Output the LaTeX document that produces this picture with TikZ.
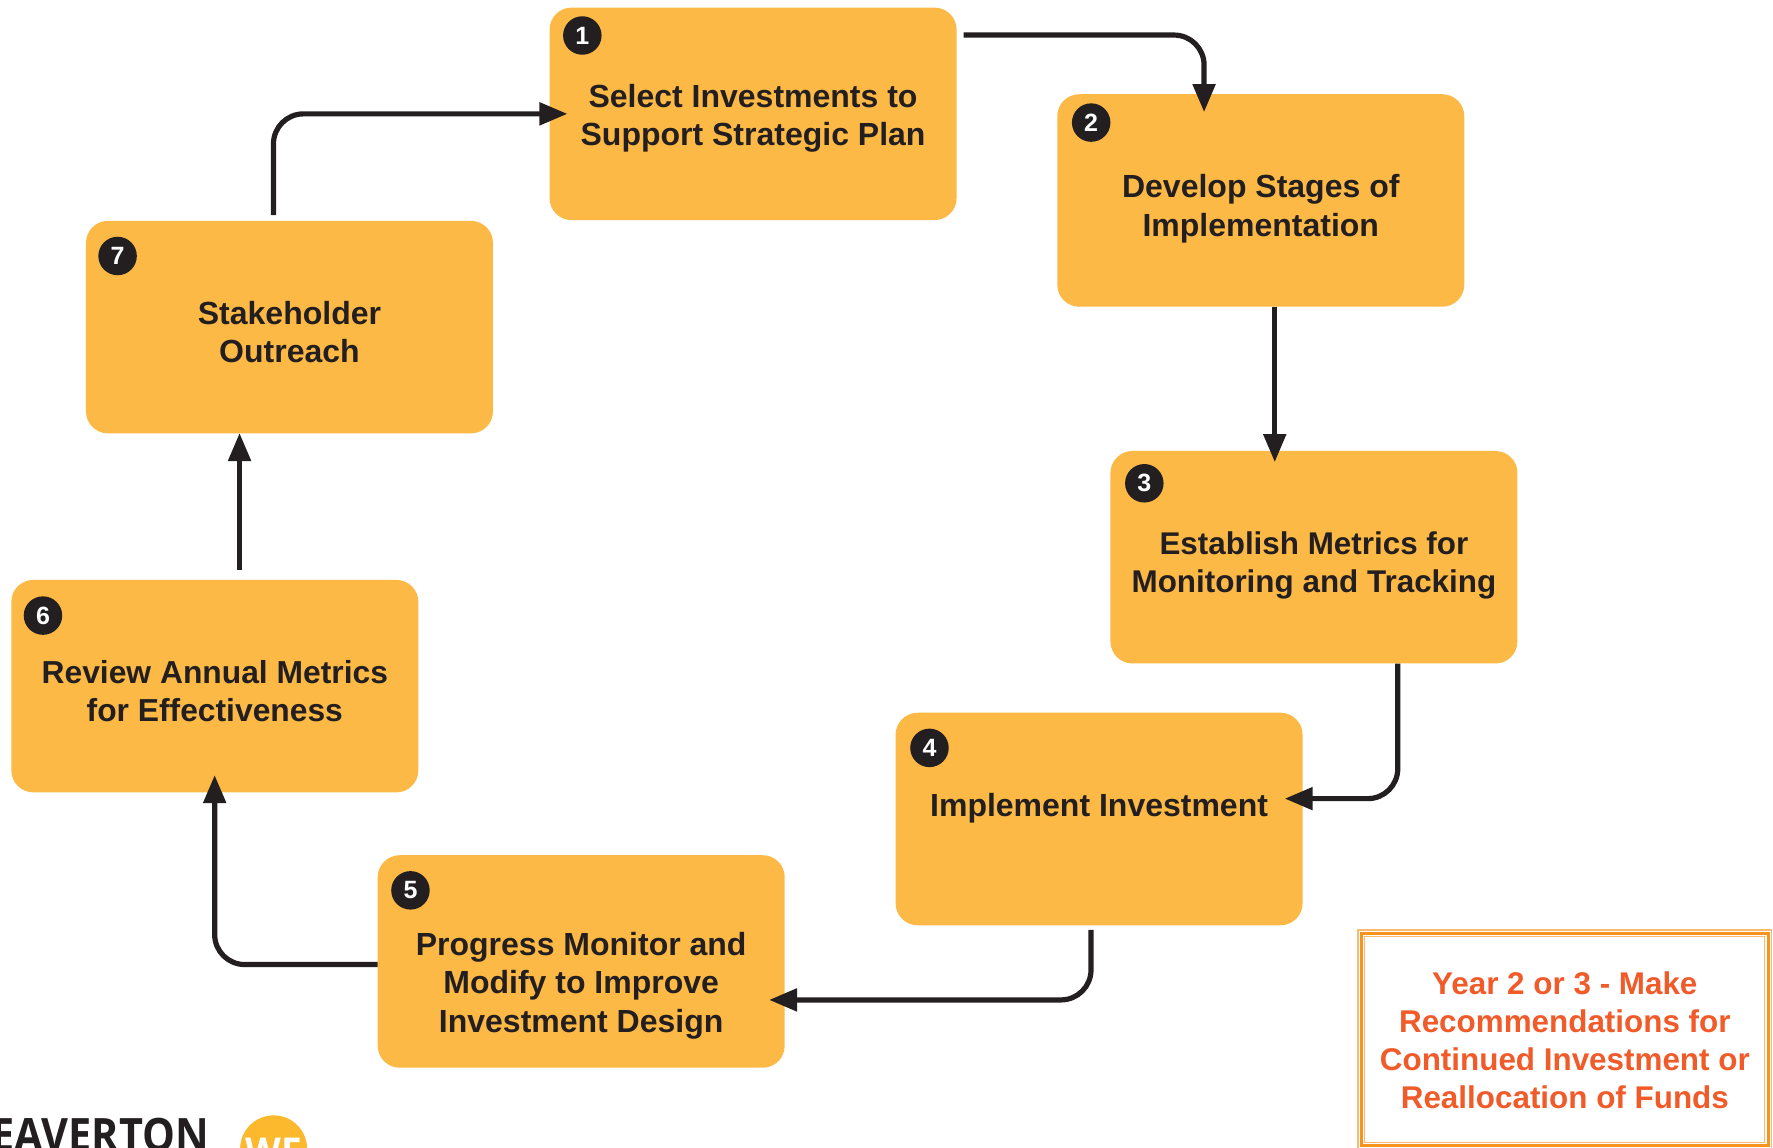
\documentclass[tikz,border=0pt]{standalone}
\usepackage{fontspec}
\setmainfont{Liberation Sans}
\newfontfamily\logofont{Open Sans}
\usetikzlibrary{arrows.meta,calc}
\definecolor{boxfill}{HTML}{FDB945}
\definecolor{ink}{HTML}{231F20}
\definecolor{frameor}{HTML}{F7941D}
\definecolor{framepale}{HTML}{FBBB6E}
\definecolor{noteor}{HTML}{F15A29}
\definecolor{logoy}{HTML}{FDB92E}
\newcommand{\boxlines}[3][32]{\raisebox{#2}[0pt][0pt]{\fontsize{#1}{38.3}\selectfont\bfseries\begin{tabular}[c]{@{}c@{}}#3\end{tabular}}}
\tikzset{
  x=1.1307pt,y=-1.1307pt,
  stagebox/.style={fill=boxfill,rounded corners=22pt,minimum width=407pt,minimum height=212.5pt,inner sep=0pt,text=ink,anchor=center},
  badge/.style={circle,fill=ink,text=white,minimum size=38.5pt,inner sep=0pt,font=\bfseries\fontsize{25}{25}\selectfont},
  flow/.style={draw=ink,line width=5.2pt,rounded corners=30pt,-{Triangle[length=28pt,width=22pt]}},
  frameline/.style={inner sep=0pt},
}
\begin{document}
\begin{tikzpicture}
\useasboundingbox (0,0) rectangle (1568,1014.4);
\node[stagebox] (b1) at (666,100.7) {\boxlines{-11pt}{Select Investments to\\Support Strategic Plan}};
\node[stagebox] (b2) at (1115,177.3) {\boxlines{-15pt}{Develop Stages of\\Implementation}};
\node[stagebox] (b3) at (1162,492.8) {\boxlines[31.4]{-15pt}{Establish Metrics for\\Monitoring and Tracking}};
\node[stagebox] (b4) at (972,724.3) {\boxlines{4pt}{Implement Investment}};
\node[stagebox] (b5) at (514,850.3) {\boxlines{-31pt}{Progress Monitor and\\Modify to Improve\\Investment Design}};
\node[stagebox] (b6) at (190,606.8) {\boxlines[31.8]{-15pt}{Review Annual Metrics\\for Effectiveness}};
\node[stagebox] (b7) at (256,289.3) {\boxlines{-15pt}{Stakeholder\\Outreach}};
\node[badge] (n1) at (515,31.4) {1};
\node[badge] (n2) at (965,108.4) {2};
\node[badge] (n3) at (1012,427.4) {3};
\node[badge] (n4) at (822,661.4) {4};
\node[badge] (n5) at (363,787.4) {5};
\node[badge] (n6) at (38,544.4) {6};
\node[badge] (n7) at (104,226.4) {7};
\draw[flow] ($(b1.east)+(6,-69.7)$) -| ($(b2.north west)+(130,16)$);
\draw[flow] ($(b2.south west)+(192.5,0)$) -- ($(b3.north west)+(145.5,10)$);
\draw[flow] ($(b3.south east)+(-106,0)$) |- ($(b4.east)+(-16,-18)$);
\draw[flow] ($(b4.south west)+(173,4)$) |- ($(b5.east)+(-14,34)$);
\draw[flow] (b5.west |- 0,853) -| ($(b6.south west)+(180,-15.5)$);
\draw[flow] ($(b6.north west)+(202,-9)$) -- ($(b7.south west)+(136,-0.5)$);
\draw[flow] ($(b7.north west)+(166,-5)$) |- ($(b1.west)+(16,0)$);
\begin{scope}
\clip (0,0) rectangle (1568,1014.4);
\node[frameline,draw=framepale,line width=1.6pt,minimum width=413.5pt,minimum height=219pt] (noteout) at (1383.9,919.3) {};
\node[frameline,draw=frameor,line width=2.6pt,minimum width=407pt,minimum height=212.5pt,text=noteor] (note) at (noteout.center) {\raisebox{-10.5pt}[0pt][0pt]{\fontsize{31.4}{38.2}\selectfont\bfseries\begin{tabular}[c]{@{}c@{}}Year 2 or 3 - Make\\Recommendations for\\Continued Investment or\\Reallocation of Funds\end{tabular}}};
\node[frameline,draw=framepale,line width=1.2pt,minimum width=400pt,minimum height=206pt] (notein) at (noteout.center) {};
\node[anchor=base east,inner sep=0pt,xscale=.9,font=\logofont\bfseries\fontsize{46}{46}\selectfont,text=ink] (logo) at (185,1018) {EAVERTON};
\node[circle,fill=logoy,minimum size=67pt,inner sep=0pt] (seal) at (242,1016) {};
\node[anchor=base,inner sep=0pt,text=white,font=\logofont\bfseries\fontsize{37}{37}\selectfont] (we) at ($(seal.center)+(0,14)$) {WE};
\end{scope}
\end{tikzpicture}
\end{document}
